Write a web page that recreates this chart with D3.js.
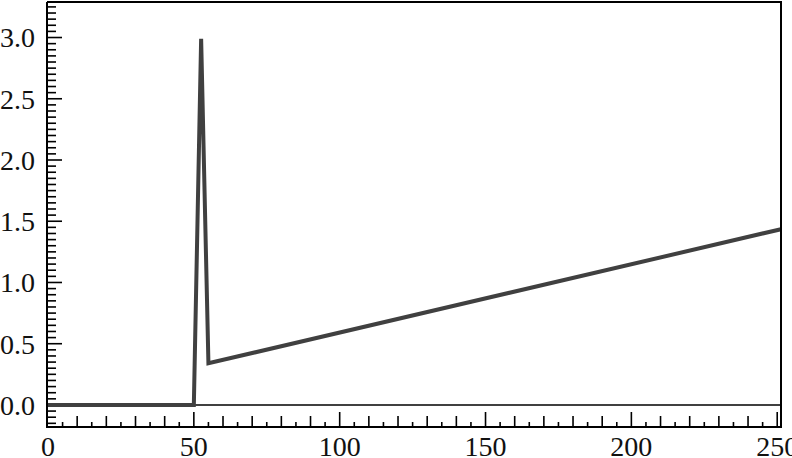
<!DOCTYPE html>
<html>
<head>
<meta charset="utf-8">
<script src="https://cdn.jsdelivr.net/npm/d3@7"></script>
<style>
  html, body { margin: 0; padding: 0; background: #fff; }
  svg { display: block; }
  text { font-family: "Liberation Serif", "Times New Roman", serif; }
</style>
</head>
<body>
<svg id="chart" width="792" height="458"></svg>
<script>
// ---- data ----
const xValues = [0, 50, 52.5, 55, 251.3];
const yValues = [0, 0, 2.99, 0.34, 1.435];
const xTickLabels = [0, 50, 100, 150, 200, 250];
const yTickLabels = ["0.0", "0.5", "1.0", "1.5", "2.0", "2.5", "3.0"];

const pLeft = 47, pRight = 781, pTop = 2, pBottom = 427;

const svg = d3.select("#chart");

const x = d3.scaleLinear().domain([0, 251.3]).range([48, 781]);
const y = d3.scaleLinear().domain([-0.18, 3.29]).range([pBottom, pTop]);

// y minor ticks every 0.05
const yMinor = d3.range(-15, 330, 5).map(v => v / 100).filter(v => v >= -0.17 && v <= 3.27);
svg.append("g").selectAll("line").data(yMinor).join("line")
  .attr("x1", pLeft).attr("x2", d => Math.abs(Math.round(d * 100) % 50) === 0 ? pLeft + 15 : pLeft + 9)
  .attr("y1", d => y(d)).attr("y2", d => y(d))
  .attr("stroke", "#000").attr("stroke-width", 1.6);

// y labels
svg.append("g").selectAll("text").data(yTickLabels).join("text")
  .attr("x", 35).attr("y", d => y(+d)).attr("dy", "0.35em")
  .attr("text-anchor", "end").attr("font-size", 28).attr("fill", "#111")
  .text(d => d);

// x minor ticks every 5
const xMinor = d3.range(5, 252, 5);
svg.append("g").selectAll("line").data(xMinor).join("line")
  .attr("x1", d => x(d)).attr("x2", d => x(d))
  .attr("y1", pBottom)
  .attr("y2", d => d % 50 === 0 ? pBottom - 15 : (d % 10 === 0 ? pBottom - 11 : pBottom - 5))
  .attr("stroke", "#000").attr("stroke-width", 1.6);

// x labels
svg.append("g").selectAll("text").data(xTickLabels).join("text")
  .attr("x", d => x(d)).attr("y", 456)
  .attr("text-anchor", "middle").attr("font-size", 28).attr("fill", "#111")
  .text(d => d);

// zero line
svg.append("line").attr("x1", pLeft).attr("x2", pRight).attr("y1", y(0)).attr("y2", y(0))
  .attr("stroke", "#000").attr("stroke-width", 1.5);

// data line
const pts = xValues.map((v, i) => [v, yValues[i]]);
svg.append("path").datum(pts)
  .attr("d", d3.line().x(d => x(d[0])).y(d => y(d[1])))
  .attr("fill", "none").attr("stroke", "#404040").attr("stroke-width", 4)
  .attr("stroke-linejoin", "miter").attr("stroke-miterlimit", 20);

// frame
svg.append("line").attr("x1", pLeft).attr("x2", pLeft).attr("y1", pTop).attr("y2", pBottom)
  .attr("stroke", "#000").attr("stroke-width", 2);
svg.append("line").attr("x1", pRight).attr("x2", pRight).attr("y1", pTop).attr("y2", pBottom)
  .attr("stroke", "#000").attr("stroke-width", 2);
svg.append("line").attr("x1", pLeft).attr("x2", pRight + 1).attr("y1", pTop).attr("y2", pTop)
  .attr("stroke", "#000").attr("stroke-width", 2);
svg.append("line").attr("x1", pLeft - 1).attr("x2", pRight + 1).attr("y1", pBottom).attr("y2", pBottom)
  .attr("stroke", "#000").attr("stroke-width", 2);
</script>
</body>
</html>
